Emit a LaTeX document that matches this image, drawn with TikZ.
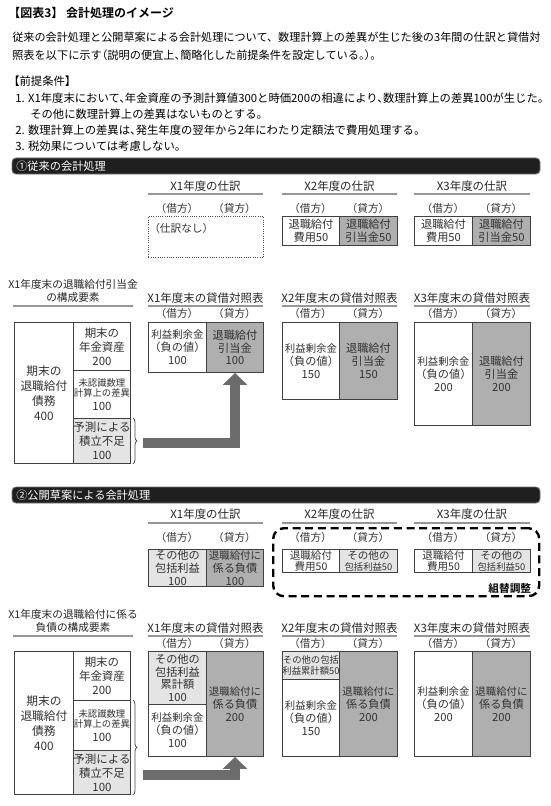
\documentclass[tikz,border=0pt]{standalone}
\usepackage{fontspec}
\setmainfont{Noto Sans CJK JP}[BoldFont={Noto Sans CJK JP Bold}]
\newfontfamily\halffont{Noto Sans CJK JP}[RawFeature=+halt]
\usetikzlibrary{
    arrows.meta, positioning,
    calc, decorations.pathreplacing
}
\definecolor{bsdark}{RGB}{175,175,175}
\definecolor{bslight}{RGB}{228,228,228}
\definecolor{txtgray}{RGB}{50,50,50}
\definecolor{rulegray}{RGB}{150,150,150}
\definecolor{arrgray}{RGB}{108,108,108}
\newcommand\narrowtxt{\fontsize{7.8}{9.6}\selectfont}
\newcommand\smalltxt{\fontsize{7}{8}\selectfont}
\tikzset{
  box/.style 2 args={minimum width=#1*0.75pt, minimum height=#2*0.75pt, anchor=north west},
  cell/.style={draw=black!75, line width=0.7pt, inner sep=0pt, align=center,
               text=txtgray, font=\fontsize{8.4}{9.6}\selectfont},
  dark/.style={cell, fill=bsdark},
  light/.style={cell, fill=bslight},
  tiny/.style={font=\fontsize{7}{7.9}\selectfont},
  flat/.style={font=\fontsize{7.9}{8.3}\selectfont},
  cmp/.style={font=\fontsize{8.6}{10.4}\selectfont},
  cmpbig/.style={font=\fontsize{8.8}{11.2}\selectfont},
  hdg/.style={inner sep=0pt, text=black!85, font=\fontsize{8.6}{10}\selectfont},
  side/.style={inner sep=0pt, text=txtgray, font=\fontsize{8}{9}\selectfont},
  body/.style={anchor=west, inner sep=0pt, font=\fontsize{8.35}{10}\selectfont},
  prem/.style={anchor=west, inner sep=0pt, font=\halffont\fontsize{8.5}{10}\selectfont},
  rule/.style={draw=rulegray, line width=1.5pt},
  bar/.style={draw=black!55, fill=black!88, rounded corners=3pt, line width=0.6pt},
  bartext/.style={anchor=west, inner sep=0pt, text=white, font=\fontsize{8.4}{10}\selectfont},
  bigarr/.style={draw=arrgray, line width=7pt, -{Triangle[width=18pt,length=9pt]}},
  brc/.style={decorate, decoration={brace, amplitude=3pt}, draw=black!70, line width=0.6pt},
}

\begin{document}
\begin{tikzpicture}[x=0.75pt, y=-0.75pt]
  \useasboundingbox[fill=white] (0,0) rectangle (550,806);

  \node[body, font=\bfseries\fontsize{9}{11}\selectfont] (title) at (8,13) {【図表3】 会計処理のイメージ};
  \node[body] (intro1) at (12,37) {従来の会計処理と公開草案による会計処理について、数理計算上の差異が生じた後の3年間の仕訳と貸借対};
  \node[body, font=\halffont\fontsize{8.4}{10}\selectfont] (intro2) at (12,55) {照表を以下に示す（説明の便宜上、簡略化した前提条件を設定している。）。};
  \node[body, font=\fontsize{8.5}{10}\selectfont] (premH) at (8,81) {【前提条件】};
  \node[prem] (prem1)  at (15,98)  {1. X1年度末において、年金資産の予測計算値300と時価200の相違により、数理計算上の差異100が生じた。};
  \node[prem] (prem1b) at (30,114) {その他に数理計算上の差異はないものとする。};
  \node[prem] (prem2)  at (15,130) {2. 数理計算上の差異は、発生年度の翌年から2年にわたり定額法で費用処理する。};
  \node[prem] (prem3)  at (15,146) {3. 税効果については考慮しない。};

  % (1) conventional
  \path[bar] (12,158) rectangle (540,174);
  \node[bartext] (barA) at (16,166) {①従来の会計処理};

  \node[hdg] (jAoneH)   at (205.5,186) {X1年度の仕訳};
  \node[hdg] (jAtwoH)   at (339.5,186) {X2年度の仕訳};
  \node[hdg] (jAthreeH) at (472,186)   {X3年度の仕訳};
  \draw[rule] (148,194) -- (263,194);
  \draw[rule] (282,194) -- (397,194);
  \draw[rule] (414,194) -- (530,194);
  \foreach \cl/\cr [count=\i] in {177/234.5, 310.5/368, 443/501} {
    \node[side] (jAdr\i) at (\cl,208) {（借方）};
    \node[side] (jAcr\i) at (\cr,208) {（貸方）};
  }

  \node[draw=black!70, densely dotted, line width=0.7pt, inner sep=0pt, box={115}{41}] (jAone) at (148,216) {};
  \node[side, anchor=north west] (jAnone) at ($(jAone.north west)+(1,7)$) {（仕訳なし）};
  \node[cell, box={57}{29}] (jAtwoL)   at (282,216) {退職給付\\費用50};
  \node[dark, box={58}{29}] (jAtwoR)   at (339,216) {退職給付\\引当金50};
  \node[cell, box={58}{29}] (jAthreeL) at (414,216) {退職給付\\費用50};
  \node[dark, box={58}{29}] (jAthreeR) at (472,216) {退職給付\\引当金50};

  \node[hdg, align=center, font=\fontsize{8}{9.8}\selectfont] (cmpAH) at (73,291) {X1年度末の退職給付引当金\\の構成要素};
  \node[hdg] (bsAoneH)   at (205.5,298) {X1年度末の貸借対照表};
  \node[hdg] (bsAtwoH)   at (339.5,298) {X2年度末の貸借対照表};
  \node[hdg] (bsAthreeH) at (472,298)   {X3年度末の貸借対照表};
  \draw[rule] (13,306) -- (133,306);
  \draw[rule] (148,306) -- (263,306);
  \draw[rule] (282,306) -- (397,306);
  \draw[rule] (414,306) -- (530,306);
  \foreach \cl/\cr [count=\i] in {177/234.5, 310.5/368, 443/501} {
    \node[side] (bsAdr\i) at (\cl,313) {（借方）};
    \node[side] (bsAcr\i) at (\cr,313) {（貸方）};
  }

  \node[cell, cmpbig, box={59}{141}] (cmpAobl)   at (14,322) {期末の\\退職給付\\債務\\400};
  \node[cell, cmp, box={57}{48}]     (cmpAasset) at (73,322) {期末の\\年金資産\\200};
  \node[cell, tiny, box={57}{48}]    (cmpAdiff)  at (73,370) {未認識数理\\計算上の差異\\[2pt]{\fontsize{8.6}{10}\selectfont 100}};
  \node[light, cmp, box={57}{45}]    (cmpAshort) at (73,418) {予測による\\積立不足\\100};
  \draw[brc] ([xshift=1.5pt]cmpAshort.north east) -- ([xshift=1.5pt]cmpAshort.south east);

  \node[cell, box={58}{50}]  (bsAoneL)   at (148,322) {{\narrowtxt 利益剰余金}\\（負の値）\\100};
  \node[dark, box={57}{50}]  (bsAoneR)   at (206,322) {退職給付\\引当金\\100};
  \node[cell, box={57}{77}]  (bsAtwoL)   at (282,322) {{\narrowtxt 利益剰余金}\\（負の値）\\150};
  \node[dark, box={58}{77}]  (bsAtwoR)   at (339,322) {退職給付\\引当金\\150};
  \node[cell, box={58}{103}] (bsAthreeL) at (414,322) {{\narrowtxt 利益剰余金}\\（負の値）\\200};
  \node[dark, box={58}{103}] (bsAthreeR) at (472,322) {退職給付\\引当金\\200};

  \coordinate (arrA) at (143,443);
  \draw[bigarr] (arrA) -| (bsAoneR.south);

  % (2) exposure draft
  \path[bar] (12,487) rectangle (540,503);
  \node[bartext] (barB) at (16,495) {②公開草案による会計処理};

  \node[hdg] (jBoneH)   at (205.5,514) {X1年度の仕訳};
  \node[hdg] (jBtwoH)   at (339.5,514) {X2年度の仕訳};
  \node[hdg] (jBthreeH) at (472,514)   {X3年度の仕訳};
  \draw[rule] (148,523) -- (263,523);
  \draw[rule] (282,523) -- (397,523);
  \draw[rule] (414,523) -- (530,523);
  \foreach \cl/\cr [count=\i] in {177/234.5, 310.5/368, 443/501} {
    \node[side] (jBdr\i) at (\cl,537) {（借方）};
    \node[side] (jBcr\i) at (\cr,537) {（貸方）};
  }

  \node[light, box={58}{37}] (jBoneL) at (148,549) {その他の\\包括利益\\100};
  \node[dark, box={57}{37}]  (jBoneR) at (206,549) {{\narrowtxt 退職給付に}\\係る負債\\100};
  \node[cell, flat, box={57}{23}]  (jBtwoL)   at (282,549) {退職給付\\費用50};
  \node[light, flat, box={58}{23}] (jBtwoR)   at (339,549) {その他の\\{\smalltxt 包括利益50}};
  \node[cell, flat, box={58}{23}]  (jBthreeL) at (414,549) {退職給付\\費用50};
  \node[light, flat, box={58}{23}] (jBthreeR) at (472,549) {その他の\\{\smalltxt 包括利益50}};

  \node[draw=black, dashed, dash pattern=on 6pt off 3.5pt, line width=1.8pt,
        rounded corners=8pt, inner sep=0pt, box={266}{68}] (regroup) at (272,527) {};
  \node[anchor=south east, inner sep=0pt, font=\bfseries\fontsize{8}{10}\selectfont]
        (regroupT) at ($(regroup.south east)+(-9,-4)$) {組替調整};

  \node[hdg, align=center, font=\fontsize{8}{9.8}\selectfont] (cmpBH) at (73,621) {X1年度末の退職給付に係る\\負債の構成要素};
  \node[hdg] (bsBoneH)   at (205.5,628) {X1年度末の貸借対照表};
  \node[hdg] (bsBtwoH)   at (339.5,628) {X2年度末の貸借対照表};
  \node[hdg] (bsBthreeH) at (472,628)   {X3年度末の貸借対照表};
  \draw[rule] (13,636) -- (133,636);
  \draw[rule] (148,636) -- (263,636);
  \draw[rule] (282,636) -- (397,636);
  \draw[rule] (414,636) -- (530,636);
  \foreach \cl/\cr [count=\i] in {177/234.5, 310.5/368, 443/501} {
    \node[side] (bsBdr\i) at (\cl,643) {（借方）};
    \node[side] (bsBcr\i) at (\cr,643) {（貸方）};
  }

  \node[cell, cmpbig, box={59}{143}] (cmpBobl)   at (14,651) {期末の\\退職給付\\債務\\400};
  \node[cell, cmp, box={57}{49}]     (cmpBasset) at (73,651) {期末の\\年金資産\\200};
  \node[cell, tiny, box={57}{50}]    (cmpBdiff)  at (73,700) {未認識数理\\計算上の差異\\[2pt]{\fontsize{8.6}{10}\selectfont 100}};
  \node[light, cmp, box={57}{44}]    (cmpBshort) at (73,750) {予測による\\積立不足\\100};
  \draw[brc] ([xshift=1.5pt]cmpBdiff.north east) -- ([xshift=1.5pt]cmpBshort.south east);

  \node[light, box={58}{53}]       (bsBoneO)   at (148,651) {その他の\\包括利益\\累計額\\100};
  \node[cell, box={58}{52}]        (bsBoneL)   at (148,704) {{\narrowtxt 利益剰余金}\\（負の値）\\100};
  \node[dark, box={57}{105}]       (bsBoneR)   at (206,651) {{\narrowtxt 退職給付に}\\係る負債\\200};
  \node[light, tiny, box={57}{28}] (bsBtwoO)   at (282,651) {その他の包括\\利益累計額50};
  \node[cell, box={57}{77}]        (bsBtwoL)   at (282,679) {{\narrowtxt 利益剰余金}\\（負の値）\\150};
  \node[dark, box={58}{105}]       (bsBtwoR)   at (339,651) {{\narrowtxt 退職給付に}\\係る負債\\200};
  \node[cell, box={58}{105}]       (bsBthreeL) at (414,651) {{\narrowtxt 利益剰余金}\\（負の値）\\200};
  \node[dark, box={58}{105}]       (bsBthreeR) at (472,651) {{\narrowtxt 退職給付に}\\係る負債\\200};

  \coordinate (arrB) at (143,775);
  \draw[bigarr] (arrB) -| (bsBoneR.south);
\end{tikzpicture}
\end{document}
